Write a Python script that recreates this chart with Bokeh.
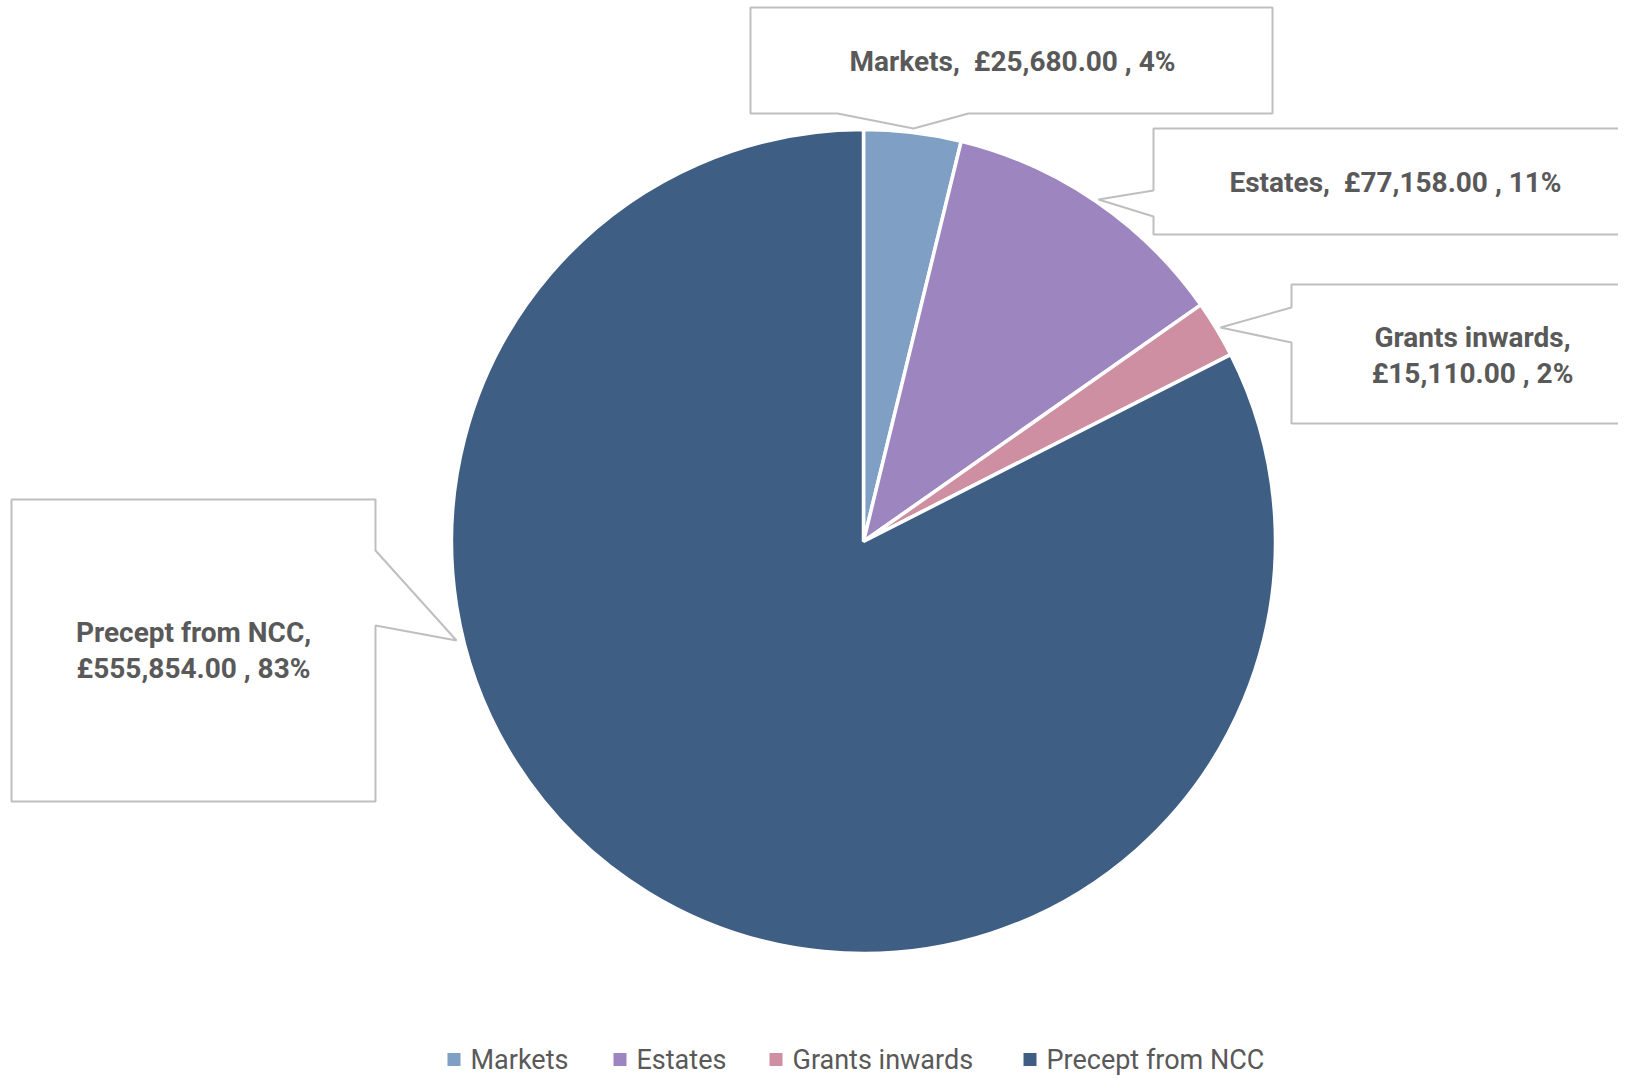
import numpy as np
from bokeh.plotting import figure
from bokeh.models import Range1d
from bokeh.core.properties import value
from bokeh.embed import file_html
from bokeh.resources import INLINE

# ---- data ----
categories = ["Markets", "Estates", "Grants inwards", "Precept from NCC"]
amounts = [25680.00, 77158.00, 15110.00, 555854.00]
percent_labels = [4, 11, 2, 83]
colors = ["#7F9FC4", "#9D85C0", "#CE8FA3", "#3E5E84"]
label_breaks = [False, False, True, True]   # two-line labels

H = 1091  # screen height used to flip screen y into data y

def fy(ys):
    return [H - y for y in ys]

p = figure(width=1618, height=1075, x_range=Range1d(0, 1618), y_range=Range1d(H - 1075, H),
           output_backend="svg", toolbar_location=None, min_border=0)
p.axis.visible = False
p.grid.visible = False
p.outline_line_color = None
p.background_fill_color = "white"
p.border_fill_color = "white"

# ---- callout boxes (layout) ----
callouts = [
    [(750, 7), (1272, 7), (1272, 113), (968, 113), (913, 128), (837, 113), (750, 113)],
    [(1153, 128), (1660, 128), (1660, 234), (1153, 234), (1153, 216), (1098, 199), (1153, 190)],
    [(1291, 284), (1660, 284), (1660, 423), (1291, 423), (1291, 342), (1220, 327), (1291, 307)],
    [(11, 499), (375, 499), (375, 550), (456, 640), (375, 625), (375, 801), (11, 801)],
]
p.patches(xs=[[pt[0] for pt in c] for c in callouts],
          ys=[fy([pt[1] for pt in c]) for c in callouts],
          fill_color="white", line_color="#BFBFBF", line_width=2)

# ---- pie ----
cx, cy, r = 863, H - 541, 412
vals = np.array(amounts)
frac = vals / vals.sum()
cum_end = np.cumsum(frac)
cum_start = cum_end - frac
start_angles = np.pi / 2 - cum_end * 2 * np.pi
end_angles = np.pi / 2 - cum_start * 2 * np.pi
p.wedge(x=cx, y=cy, radius=r, start_angle=list(start_angles), end_angle=list(end_angles),
        fill_color=colors, line_color="white", line_width=3.5, direction="anticlock")

# ---- data labels ----
labels = []
for cat, amt, pc, br in zip(categories, amounts, percent_labels, label_breaks):
    money = f"£{amt:,.2f} , {pc}%"
    labels.append(f"{cat},\n{money}" if br else f"{cat},\u00a0 {money}")
lx = [1012, 1395, 1472, 193]
ly = [61, 182, 355, 650]
p.text(x=lx, y=fy(ly), text=labels, text_align="center", text_baseline="middle",
       text_font=value("Roboto"), text_font_style="bold", text_font_size="28px",
       text_color="#595959", text_line_height=1.12)

# ---- legend (drawn manually) ----
leg_sq_x = [447, 613, 769, 1023]
leg_y = 1059
p.rect(x=[x + 6.5 for x in leg_sq_x], y=H - leg_y, width=13, height=13,
       fill_color=colors, line_color=None)
p.text(x=[x + 23 for x in leg_sq_x], y=H - leg_y, text=categories,
       text_align="left", text_baseline="middle",
       text_font=value("Roboto"), text_font_size="27px", text_color="#595959")

open("out.html", "w").write(file_html(p, INLINE))
